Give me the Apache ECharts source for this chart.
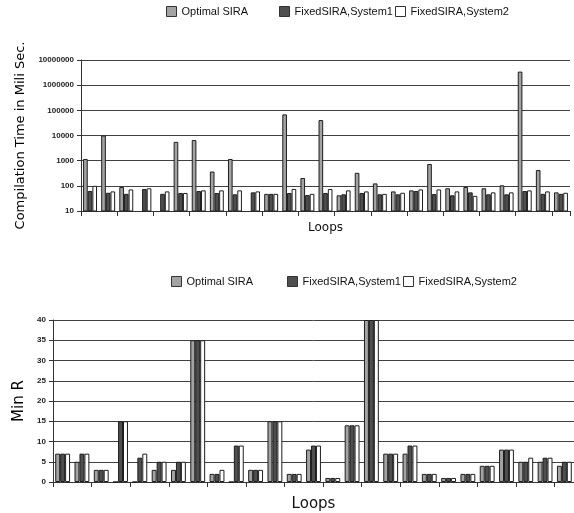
<!DOCTYPE html>
<html>
<head>
<meta charset="utf-8">
<script src="https://cdn.jsdelivr.net/npm/echarts@6/dist/echarts.min.js"></script>
<style>
html,body{margin:0;padding:0;background:#fff;}
#c{width:574px;height:513px;}
</style>
</head>
<body>
<div id="c"></div>
<script>
// ---------- data ----------
var loops = ['L1','L2','L3','L4','L5','L6','L7','L8','L9','L10','L11','L12','L13','L14','L15','L16','L17','L18','L19','L20','L21','L22','L23','L24','L25','L26','L27'];
var seriesNames = ['Optimal SIRA', 'FixedSIRA,System1', 'FixedSIRA,System2'];

// Compilation time (ms), log scale
var timeOptimal = [1170, 10000, 90, null, null, 5600, 6600, 370, 1170, null, 48, 69000, 205, 41000, 42, 330, 125, 60, 66, 740, 80, 90, 80, 105, 3460000, 425, 55];
var timeSystem1 = [62, 53, 48, 75, 48, 52, 62, 52, 46, 55, 48, 52, 43, 52, 46, 52, 46, 46, 62, 47, 42, 55, 46, 46, 62, 48, 48];
var timeSystem2 = [100, 60, 72, 80, 60, 52, 66, 66, 66, 60, 48, 75, 48, 75, 66, 60, 48, 53, 72, 72, 60, 40, 55, 55, 66, 60, 53];
var timeTicks = [10, 100, 1000, 10000, 100000, 1000000, 10000000];

// Min R
var minROptimal = [7, 5, 3, 0, 0, 3, 3, 35, 2, 0, 3, 15, 2, 8, 1, 14, 40, 7, 7, 2, 1, 2, 4, 8, 5, 5, 4];
var minRSystem1 = [7, 7, 3, 15, 6, 5, 5, 35, 2, 9, 3, 15, 2, 9, 1, 14, 40, 7, 9, 2, 1, 2, 4, 8, 5, 6, 5];
var minRSystem2 = [7, 7, 3, 15, 7, 5, 5, 35, 3, 9, 3, 15, 2, 9, 1, 14, 40, 7, 9, 2, 1, 2, 4, 8, 6, 6, 5];
var minRTicks = [0, 5, 10, 15, 20, 25, 30, 35, 40];

// ---------- styles ----------
var fills = ['#a3a3a3', '#4f4f4f', '#ffffff'];
var borderCol = '#1e1e1e';
var gridLineCol = '#404040';
var labelFont = {fontFamily: 'Liberation Sans', fontSize: 8, fontWeight: 'bold', color: '#222'};
var titleFont = 'DejaVu Sans';

function barSeries(name, idx, data, axisIdx) {
  return {
    name: name, type: 'bar', xAxisIndex: axisIdx, yAxisIndex: axisIdx,
    data: data, barGap: '0%', barCategoryGap: '23%',
    itemStyle: {color: fills[idx], borderColor: borderCol, borderWidth: 1},
    emphasis: {disabled: true}, animation: false
  };
}

function legendAt(name, idx, left, top) {
  return {
    left: left, top: top, padding: 0, itemWidth: 10, itemHeight: 10, itemGap: 0,
    icon: 'rect', selectedMode: false,
    textStyle: {fontFamily: 'Liberation Sans', fontSize: 11, color: '#111'},
    data: [{name: name, itemStyle: {color: fills[idx], borderColor: '#333', borderWidth: 1}}]
  };
}

var chart = echarts.init(document.getElementById('c'), null, {renderer: 'canvas'});
chart.setOption({
  backgroundColor: '#fff',
  animation: false,
  legend: [
    legendAt(seriesNames[0], 0, 166, 6),
    legendAt(seriesNames[1], 1, 279, 6),
    legendAt(seriesNames[2], 2, 395, 6),
    legendAt(seriesNames[0], 0, 171, 276),
    legendAt(seriesNames[1], 1, 287, 276),
    legendAt(seriesNames[2], 2, 403, 276)
  ],
  grid: [
    {left: 81, top: 60, right: 4, height: 151, containLabel: false},
    {left: 53, top: 320, width: 530, height: 165, containLabel: false}
  ],
  xAxis: [
    {
      type: 'category', gridIndex: 0, data: loops,
      name: 'Loops', nameLocation: 'middle', nameGap: 11,
      nameTextStyle: {fontFamily: titleFont, fontSize: 12, color: '#111'},
      axisLine: {lineStyle: {color: '#333', width: 1}},
      axisTick: {show: true, length: 5, lineStyle: {color: '#333'}},
      axisLabel: {show: false}
    },
    {
      type: 'category', gridIndex: 1, data: loops,
      name: 'Loops', nameLocation: 'middle', nameGap: 15,
      nameTextStyle: {fontFamily: titleFont, fontSize: 15, color: '#111'},
      axisLine: {lineStyle: {color: '#333', width: 1}},
      axisTick: {show: true, length: 5, lineStyle: {color: '#333'}},
      axisLabel: {show: false}
    }
  ],
  yAxis: [
    {
      type: 'log', gridIndex: 0, logBase: 10,
      min: timeTicks[0], max: timeTicks[timeTicks.length - 1], splitNumber: 6,
      name: 'Compilation Time in Mili Sec.', nameLocation: 'middle', nameGap: 54,
      nameTextStyle: {fontFamily: titleFont, fontSize: 13, color: '#000'},
      axisLine: {show: true, lineStyle: {color: '#333'}},
      axisTick: {show: true, length: 4, lineStyle: {color: '#333'}},
      axisLabel: Object.assign({margin: 7, formatter: function (v) { return String(Math.round(v)); }}, labelFont),
      splitLine: {show: true, lineStyle: {color: gridLineCol, width: 1}}
    },
    {
      type: 'value', gridIndex: 1,
      min: minRTicks[0], max: minRTicks[minRTicks.length - 1], interval: minRTicks[1] - minRTicks[0],
      name: 'Min R', nameLocation: 'middle', nameGap: 24,
      nameTextStyle: {fontFamily: titleFont, fontSize: 15, color: '#000'},
      axisLine: {show: true, lineStyle: {color: '#333'}},
      axisTick: {show: true, length: 4, lineStyle: {color: '#333'}},
      axisLabel: Object.assign({margin: 7}, labelFont),
      splitLine: {show: true, lineStyle: {color: gridLineCol, width: 1}}
    }
  ],
  series: [
    barSeries(seriesNames[0], 0, timeOptimal, 0),
    barSeries(seriesNames[1], 1, timeSystem1, 0),
    barSeries(seriesNames[2], 2, timeSystem2, 0),
    barSeries(seriesNames[0], 0, minROptimal, 1),
    barSeries(seriesNames[1], 1, minRSystem1, 1),
    barSeries(seriesNames[2], 2, minRSystem2, 1)
  ]
});
</script>
</body>
</html>
